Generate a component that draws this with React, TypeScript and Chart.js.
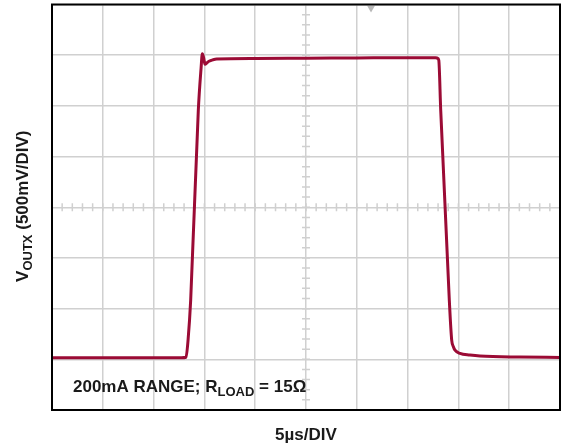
import React, { useEffect, useRef } from "react";
import { Chart, registerables } from "chart.js";

Chart.register(...registerables);

// Time in divisions (5 µs/DIV), 0..10
const timeDiv = [
  0, 2.55, 2.638, 2.68, 2.73, 2.88, 2.935, 2.959, 2.985, 3.012, 3.05, 3.09, 3.17, 3.242,
  4.0, 5.0, 6.0, 7.0, 7.55, 7.59, 7.614, 7.652, 7.821, 7.868, 7.905, 7.933, 8.031,
  8.228, 8.425, 9.213, 10,
];
// VOUTX in divisions (500 mV/DIV), 0..8
const voutDiv = [
  1.03, 1.03, 1.04, 1.4, 2.167, 5.911, 6.75, 7.03, 6.95, 6.82, 6.85, 6.88, 6.91, 6.925,
  6.935, 6.94, 6.945, 6.95, 6.95, 6.94, 6.9, 5.91, 2.167, 1.38, 1.24, 1.18, 1.117,
  1.084, 1.064, 1.044, 1.038,
];
// Trigger-position marker at the top of the screen
const triggerX = [6.28];
const triggerY = [7.93];

const xDivisions = [0, 10];
const yDivisions = [0, 8];
const minorPerDiv = 5;

const yTitleMain = "V";
const yTitleSub = "OUTX";
const yTitleRest = " (500mV/DIV)";
const xTitle = "5µs/DIV";
const noteMain = "200mA RANGE; R";
const noteSub = "LOAD";
const noteRest = " = 15Ω";

const FONT = '"Liberation Sans", Arial, sans-serif';
const TEXT_COLOR = "#1a1a1a";
const TRACE_COLOR = "#9b0b35";
const GRID_COLOR = "#d0d0d0";

type Seg = { t: string; size: number; dy: number };

function drawRich(ctx: CanvasRenderingContext2D, segs: Seg[], x: number, y: number, align: "left" | "center") {
  let total = 0;
  const widths = segs.map((s) => {
    ctx.font = `bold ${s.size}px ${FONT}`;
    const w = ctx.measureText(s.t).width;
    total += w;
    return w;
  });
  let cx = align === "center" ? x - total / 2 : x;
  segs.forEach((s, i) => {
    ctx.font = `bold ${s.size}px ${FONT}`;
    ctx.fillText(s.t, cx, y + s.dy);
    cx += widths[i];
  });
}

const decorPlugin = {
  id: "scopeDecor",
  beforeDatasetsDraw(chart: any) {
    const { ctx, scales } = chart;
    const x = scales.x;
    const y = scales.y;
    const cx = x.getPixelForValue((xDivisions[0] + xDivisions[1]) / 2);
    const cy = y.getPixelForValue((yDivisions[0] + yDivisions[1]) / 2);
    ctx.save();
    ctx.strokeStyle = GRID_COLOR;
    ctx.lineWidth = 1.5;
    ctx.beginPath();
    const nx = (xDivisions[1] - xDivisions[0]) * minorPerDiv;
    for (let i = 1; i < nx; i++) {
      const px = x.getPixelForValue(xDivisions[0] + i / minorPerDiv);
      ctx.moveTo(px, cy - 4);
      ctx.lineTo(px, cy + 4);
    }
    const ny = (yDivisions[1] - yDivisions[0]) * minorPerDiv;
    for (let i = 1; i < ny; i++) {
      const py = y.getPixelForValue(yDivisions[0] + i / minorPerDiv);
      ctx.moveTo(cx - 4, py);
      ctx.lineTo(cx + 4, py);
    }
    ctx.stroke();
    ctx.restore();
  },
  afterDatasetsDraw(chart: any) {
    const { ctx, chartArea } = chart;
    ctx.save();
    ctx.strokeStyle = "#000";
    ctx.lineWidth = 2;
    ctx.strokeRect(chartArea.left, chartArea.top, chartArea.right - chartArea.left, chartArea.bottom - chartArea.top);
    ctx.restore();
  },
  afterDraw(chart: any) {
    const { ctx, chartArea } = chart;
    ctx.save();
    ctx.fillStyle = TEXT_COLOR;
    ctx.textBaseline = "alphabetic";
    ctx.textAlign = "left";
    // annotation inside the plot
    drawRich(
      ctx,
      [
        { t: noteMain, size: 17, dy: 0 },
        { t: noteSub, size: 13, dy: 4 },
        { t: noteRest, size: 17, dy: 0 },
      ],
      chartArea.left + 21,
      392,
      "left"
    );
    // x title
    drawRich(ctx, [{ t: xTitle, size: 17, dy: 0 }], (chartArea.left + chartArea.right) / 2, 440, "center");
    // y title (rotated)
    ctx.translate(28, (chartArea.top + chartArea.bottom) / 2 - 1);
    ctx.rotate(-Math.PI / 2);
    drawRich(
      ctx,
      [
        { t: yTitleMain, size: 17, dy: 0 },
        { t: yTitleSub, size: 13, dy: 4 },
        { t: yTitleRest, size: 17, dy: 0 },
      ],
      0,
      0,
      "center"
    );
    ctx.restore();
  },
};

export default function App() {
  const ref = useRef<HTMLCanvasElement | null>(null);
  useEffect(() => {
    if (!ref.current) return;
    const chart = new Chart(ref.current, {
      type: "line",
      data: {
        datasets: [
          {
            data: timeDiv.map((t, i) => ({ x: t, y: voutDiv[i] })),
            borderColor: TRACE_COLOR,
            borderWidth: 3,
            pointRadius: 0,
            cubicInterpolationMode: "monotone",
            fill: false,
          },
          {
            data: triggerX.map((t, i) => ({ x: t, y: triggerY[i] })),
            showLine: false,
            pointStyle: "triangle",
            rotation: 180,
            pointRadius: 4.5,
            pointBackgroundColor: "#b8b8b8",
            pointBorderWidth: 0,
            borderColor: "rgba(0,0,0,0)",
          },
        ],
      },
      options: {
        responsive: false,
        animation: false,
        layout: { padding: { left: 52, top: 4, right: 6, bottom: 38 } },
        plugins: { legend: { display: false }, tooltip: { enabled: false } },
        scales: {
          x: {
            type: "linear",
            min: xDivisions[0],
            max: xDivisions[1],
            ticks: { display: false, stepSize: 1 },
            grid: { color: GRID_COLOR, lineWidth: 1.5, drawTicks: false },
            border: { display: false },
          },
          y: {
            type: "linear",
            min: yDivisions[0],
            max: yDivisions[1],
            ticks: { display: false, stepSize: 1 },
            grid: { color: GRID_COLOR, lineWidth: 1.5, drawTicks: false },
            border: { display: false },
          },
        },
      },
      plugins: [decorPlugin],
    } as any);
    return () => chart.destroy();
  }, []);
  return (
    <div style={{ position: "absolute", left: 0, top: 0, width: 566, height: 448, background: "#fff" }}>
      <canvas ref={ref} width={566} height={448} style={{ display: "block" }} />
    </div>
  );
}
